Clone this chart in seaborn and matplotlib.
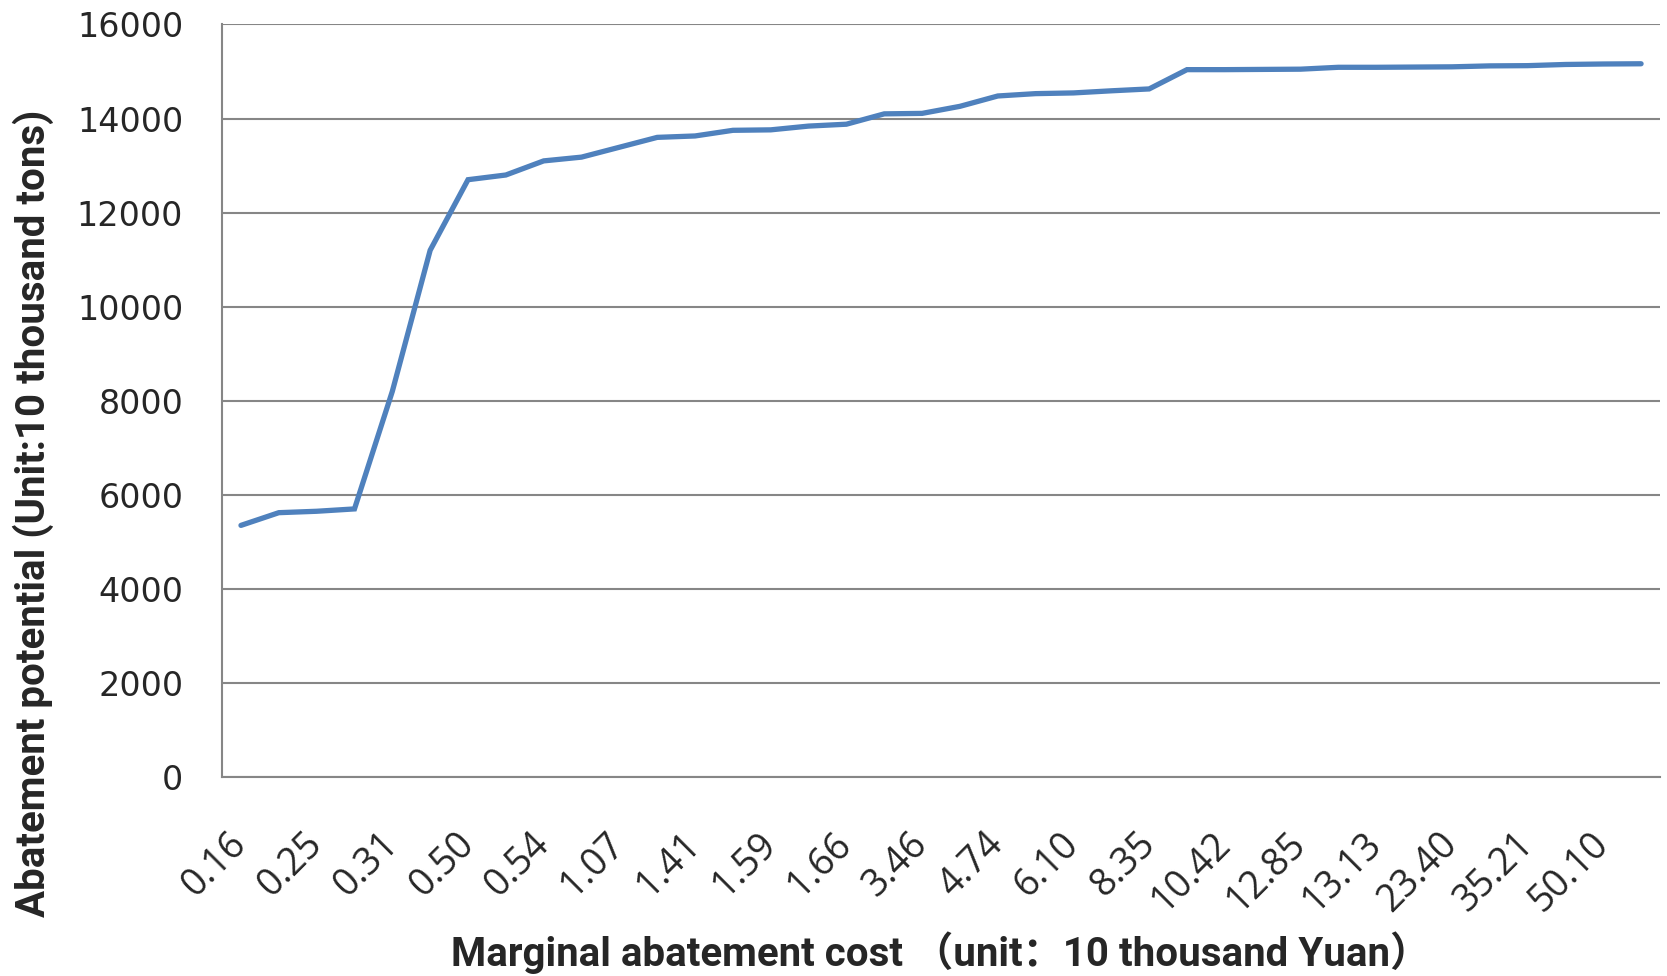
import numpy as np
import matplotlib
matplotlib.use("Agg")
import matplotlib.pyplot as plt
from matplotlib.ticker import FixedLocator
import seaborn as sns

# Coûts marginaux affichés (une étiquette sur deux dans l'original)
cost_labels = ["0.16", "0.25", "0.31", "0.50", "0.54", "1.07", "1.41", "1.59", "1.66",
               "3.46", "4.74", "6.10", "8.35", "10.42", "12.85", "13.13", "23.40",
               "35.21", "50.10"]

# Potentiel de réduction (10 mille tonnes), 38 catégories
potential = [5350, 5620, 5650, 5700, 8200, 11200, 12700, 12800, 13100, 13180,
             13390, 13600, 13630, 13750, 13760, 13840, 13880, 14100, 14110, 14260,
             14480, 14530, 14545, 14590, 14630, 15040, 15040, 15045, 15050, 15090,
             15090, 15095, 15100, 15120, 15125, 15150, 15160, 15165]

y_ticks = [0, 2000, 4000, 6000, 8000, 10000, 12000, 14000, 16000]

grid_col = "#868686"
line_col = "#4F81BD"
title_font = ["Roboto", "Noto Sans CJK SC"]

sns.set_style("white")
plt.rcParams["font.family"] = ["DejaVu Sans", "Noto Sans CJK SC"]

fig = plt.figure(figsize=(16.67, 9.76), dpi=100)
ax = fig.add_axes([0.1332, 0.2039, 0.9958 - 0.1332, 0.9749 - 0.2039])

pos = np.arange(len(potential))
sns.lineplot(x=pos, y=potential, ax=ax, color=line_col, linewidth=3.8,
             solid_capstyle="round", solid_joinstyle="miter")

ax.set_xlim(-0.5, len(potential) - 0.5)
ax.set_ylim(0, 16000)

ax.yaxis.set_major_locator(FixedLocator(y_ticks))
ax.set_yticklabels([str(v) for v in y_ticks], fontsize=24, family="DejaVu Sans")
ax.grid(axis="y", color=grid_col, linewidth=1.5)
ax.grid(axis="x", visible=False)
ax.set_axisbelow(True)

# étiquettes une catégorie sur deux, graduations aux bords des catégories
ax.xaxis.set_major_locator(FixedLocator(pos[::2]))
ax.set_xticklabels(cost_labels, rotation=45, ha="right", va="center",
                   rotation_mode="anchor", fontsize=27, family="Open Sans")
ax.xaxis.set_minor_locator(FixedLocator(np.arange(-0.5, len(potential), 1.0)))
ax.tick_params(axis="x", which="major", length=0, pad=44)
ax.tick_params(axis="x", which="minor", length=10, width=1.5, color=grid_col, direction="out")
ax.tick_params(axis="y", which="major", length=10, width=1.5, color=grid_col,
               direction="out", pad=18)

for side in ["top", "right"]:
    ax.spines[side].set_visible(False)
for side in ["left", "bottom"]:
    ax.spines[side].set_color(grid_col)
    ax.spines[side].set_linewidth(1.5)

ax.set_xlabel("Marginal abatement cost （unit：10 thousand Yuan）", fontsize=29,
              fontweight="bold", family=title_font, va="center")
ax.xaxis.set_label_coords(0.5, -0.234)
ax.set_ylabel("Abatement potential (Unit:10 thousand tons)", fontsize=29,
              fontweight="bold", family=title_font, va="center")
ax.yaxis.set_label_coords(-0.131, 0.351)

plt.savefig("out.png", dpi=100)
